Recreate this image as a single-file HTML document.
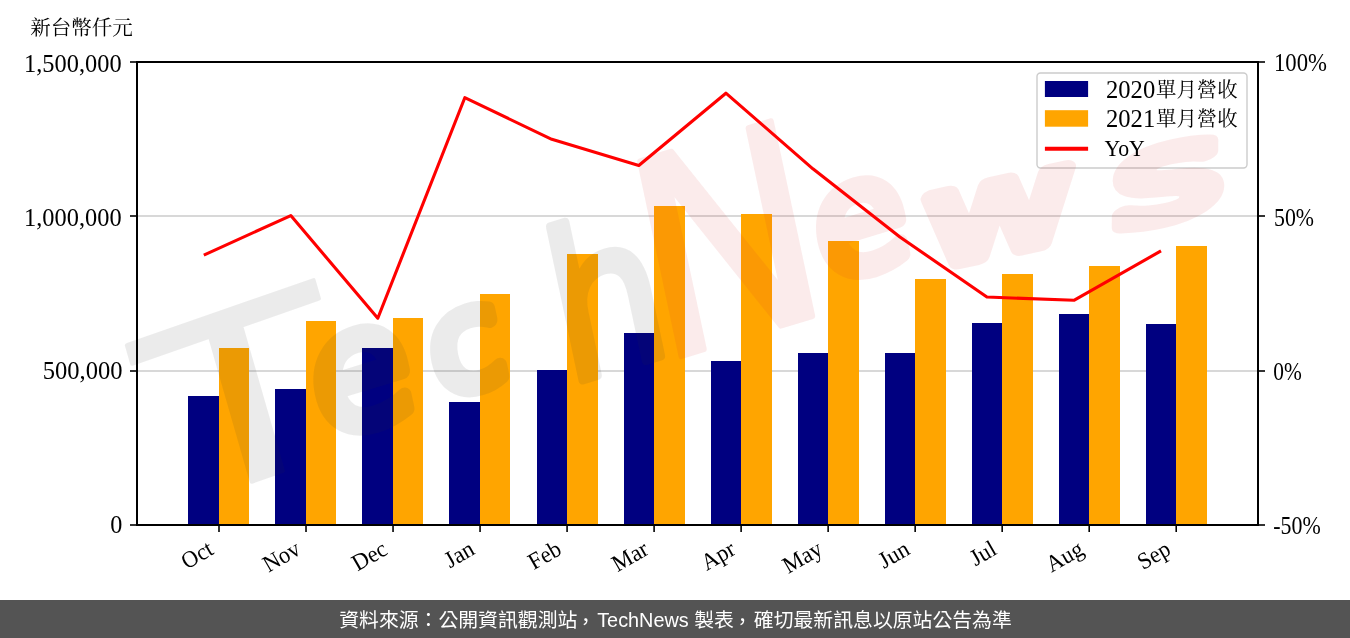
<!DOCTYPE html>
<html lang="zh-Hant"><head><meta charset="utf-8"><title>TechNews chart</title>
<style>html,body{margin:0;padding:0;background:#fff;overflow:hidden}svg{display:block}text{font-family:"Liberation Serif","Noto Serif CJK SC",serif}.ft{font-family:"Liberation Sans","Noto Sans CJK TC",sans-serif;fill:#fff}.wm text{font-family:"DejaVu Sans","Liberation Sans",sans-serif}</style></head><body>
<svg width="1350" height="638" viewBox="0 0 1350 638">
<rect width="1350" height="638" fill="#fff"/>
<line x1="137.0" x2="1258.0" y1="216.0" y2="216.0" stroke="#cbcbcb" stroke-width="1.6"/>
<line x1="137.0" x2="1258.0" y1="371.0" y2="371.0" stroke="#cbcbcb" stroke-width="1.6"/>
<rect x="188" y="396.0" width="31" height="129.0" fill="#000080"/>
<rect x="219" y="348.0" width="30" height="177.0" fill="#ffa500"/>
<rect x="275" y="389.0" width="31" height="136.0" fill="#000080"/>
<rect x="306" y="321.0" width="30" height="204.0" fill="#ffa500"/>
<rect x="362" y="348.0" width="31" height="177.0" fill="#000080"/>
<rect x="393" y="318.0" width="30" height="207.0" fill="#ffa500"/>
<rect x="449" y="402.0" width="31" height="123.0" fill="#000080"/>
<rect x="480" y="294.0" width="30" height="231.0" fill="#ffa500"/>
<rect x="537" y="370.0" width="30" height="155.0" fill="#000080"/>
<rect x="567" y="254.0" width="31" height="271.0" fill="#ffa500"/>
<rect x="624" y="333.0" width="30" height="192.0" fill="#000080"/>
<rect x="654" y="206.0" width="31" height="319.0" fill="#ffa500"/>
<rect x="711" y="361.0" width="30" height="164.0" fill="#000080"/>
<rect x="741" y="214.0" width="31" height="311.0" fill="#ffa500"/>
<rect x="798" y="353.0" width="30" height="172.0" fill="#000080"/>
<rect x="828" y="241.0" width="31" height="284.0" fill="#ffa500"/>
<rect x="885" y="353.0" width="30" height="172.0" fill="#000080"/>
<rect x="915" y="279.0" width="31" height="246.0" fill="#ffa500"/>
<rect x="972" y="323.0" width="30" height="202.0" fill="#000080"/>
<rect x="1002" y="274.0" width="31" height="251.0" fill="#ffa500"/>
<rect x="1059" y="314.0" width="30" height="211.0" fill="#000080"/>
<rect x="1089" y="266.0" width="31" height="259.0" fill="#ffa500"/>
<rect x="1146" y="324.0" width="30" height="201.0" fill="#000080"/>
<rect x="1176" y="246.0" width="31" height="279.0" fill="#ffa500"/>
<rect x="1037" y="73" width="210" height="95" rx="3.5" ry="3.5" fill="#fff" fill-opacity="0.8" stroke="#ccc" stroke-width="1.4"/>
<rect x="1044.9" y="81" width="43.2" height="16" fill="#000080"/>
<rect x="1044.9" y="110.2" width="43.2" height="16.5" fill="#ffa500"/>
<g class="wm" stroke-linejoin="round" stroke-linecap="round">
<g opacity="0.09"><text transform="translate(190,500) rotate(-17) skewX(-5)"><tspan fill="#313131" stroke="#313131"><tspan x="-16.0" y="3.7" font-size="234" stroke-width="4.0" rotate="-3.0" textLength="194" lengthAdjust="spacingAndGlyphs">T</tspan><tspan x="143.0" y="-19.0" font-size="165" stroke-width="15.0">e</tspan><tspan x="266.0" y="-24.0" font-size="136" stroke-width="15.0">c</tspan><tspan x="394.0" y="0.0" font-size="205" stroke-width="9.0" textLength="114" lengthAdjust="spacingAndGlyphs">h</tspan></tspan><tspan fill="#d62c2c" stroke="#d62c2c"><tspan x="488.0" y="6.0" font-size="272" stroke-width="6.0" textLength="186" lengthAdjust="spacingAndGlyphs">N</tspan><tspan x="669.0" y="-22.0" font-size="152" stroke-width="15.0">e</tspan><tspan x="771.0" y="-6.0" font-size="124" stroke-width="15.0" rotate="7.0" textLength="154" lengthAdjust="spacingAndGlyphs">w</tspan><tspan x="963.0" y="12.0" font-size="120" stroke-width="15.0" rotate="7.0" textLength="112" lengthAdjust="spacingAndGlyphs">s</tspan></tspan></text></g>
</g>
<rect x="137.0" y="62.0" width="1121.0" height="463.0" fill="none" stroke="#000" stroke-width="2"/>
<line x1="130" x2="137.0" y1="62.0" y2="62.0" stroke="#000" stroke-width="1.6"/>
<line x1="1258.0" x2="1265" y1="62.0" y2="62.0" stroke="#000" stroke-width="1.6"/>
<line x1="130" x2="137.0" y1="216.0" y2="216.0" stroke="#000" stroke-width="1.6"/>
<line x1="1258.0" x2="1265" y1="216.0" y2="216.0" stroke="#000" stroke-width="1.6"/>
<line x1="130" x2="137.0" y1="371.0" y2="371.0" stroke="#000" stroke-width="1.6"/>
<line x1="1258.0" x2="1265" y1="371.0" y2="371.0" stroke="#000" stroke-width="1.6"/>
<line x1="130" x2="137.0" y1="525.0" y2="525.0" stroke="#000" stroke-width="1.6"/>
<line x1="1258.0" x2="1265" y1="525.0" y2="525.0" stroke="#000" stroke-width="1.6"/>
<line x1="219.00" x2="219.00" y1="525.0" y2="532" stroke="#000" stroke-width="1.6"/>
<line x1="306.02" x2="306.02" y1="525.0" y2="532" stroke="#000" stroke-width="1.6"/>
<line x1="393.04" x2="393.04" y1="525.0" y2="532" stroke="#000" stroke-width="1.6"/>
<line x1="480.06" x2="480.06" y1="525.0" y2="532" stroke="#000" stroke-width="1.6"/>
<line x1="567.08" x2="567.08" y1="525.0" y2="532" stroke="#000" stroke-width="1.6"/>
<line x1="654.10" x2="654.10" y1="525.0" y2="532" stroke="#000" stroke-width="1.6"/>
<line x1="741.12" x2="741.12" y1="525.0" y2="532" stroke="#000" stroke-width="1.6"/>
<line x1="828.14" x2="828.14" y1="525.0" y2="532" stroke="#000" stroke-width="1.6"/>
<line x1="915.16" x2="915.16" y1="525.0" y2="532" stroke="#000" stroke-width="1.6"/>
<line x1="1002.18" x2="1002.18" y1="525.0" y2="532" stroke="#000" stroke-width="1.6"/>
<line x1="1089.20" x2="1089.20" y1="525.0" y2="532" stroke="#000" stroke-width="1.6"/>
<line x1="1176.22" x2="1176.22" y1="525.0" y2="532" stroke="#000" stroke-width="1.6"/>
<polyline points="203.8,255.1 290.8,215.6 377.8,318.2 464.8,97.7 551.8,139.3 638.8,165.5 725.9,93.2 812.9,168.8 899.9,237.0 986.9,297.0 1073.9,300.3 1161.0,250.9" fill="none" stroke="#f00" stroke-width="3.1" stroke-linejoin="round"/>
<line x1="1044.9" x2="1088.1" y1="148.8" y2="148.8" stroke="#f00" stroke-width="4"/>
<g class="tk">
<text x="30.3" y="34.9" font-size="20.5" text-anchor="start">新台幣仟元</text>
<text x="121.6" y="72.2" font-size="24.2" text-anchor="end" textLength="97.5" lengthAdjust="spacingAndGlyphs">1,500,000</text>
<text x="121.6" y="226.3" font-size="24.2" text-anchor="end" textLength="97.5" lengthAdjust="spacingAndGlyphs">1,000,000</text>
<text x="122.5" y="379.3" font-size="24.2" text-anchor="end" textLength="79.8" lengthAdjust="spacingAndGlyphs">500,000</text>
<text x="122.3" y="533.2" font-size="24.2" text-anchor="end">0</text>
<text x="1274.0" y="70.7" font-size="24.2" text-anchor="start" textLength="53.0" lengthAdjust="spacingAndGlyphs">100%</text>
<text x="1274.0" y="225.9" font-size="24.2" text-anchor="start" textLength="40.0" lengthAdjust="spacingAndGlyphs">50%</text>
<text x="1273.3" y="379.8" font-size="24.2" text-anchor="start" textLength="28.5" lengthAdjust="spacingAndGlyphs">0%</text>
<text x="1273.3" y="534.0" font-size="24.2" text-anchor="start" textLength="47.5" lengthAdjust="spacingAndGlyphs">-50%</text>
<text x="1106.0" y="97.6"><tspan font-size="24.2" textLength="49.2" lengthAdjust="spacingAndGlyphs">2020</tspan><tspan font-size="20.4" dx="0.8" dy="-0.7">單月營收</tspan></text>
<text x="1106.0" y="126.8"><tspan font-size="24.2" textLength="49.2" lengthAdjust="spacingAndGlyphs">2021</tspan><tspan font-size="20.4" dx="0.8" dy="-0.7">單月營收</tspan></text>
<text x="1104.6" y="156.3" font-size="23.4" text-anchor="start" textLength="40.2" lengthAdjust="spacingAndGlyphs">YoY</text>
<text transform="translate(215.0,553.4) rotate(-30)" x="0" y="0" font-size="23.5" text-anchor="end" textLength="32.6" lengthAdjust="spacingAndGlyphs">Oct</text>
<text transform="translate(302.0,553.4) rotate(-30)" x="0" y="0" font-size="23.5" text-anchor="end" textLength="38.8" lengthAdjust="spacingAndGlyphs">Nov</text>
<text transform="translate(389.0,553.4) rotate(-30)" x="0" y="0" font-size="23.5" text-anchor="end" textLength="36.3" lengthAdjust="spacingAndGlyphs">Dec</text>
<text transform="translate(476.1,553.4) rotate(-30)" x="0" y="0" font-size="23.5" text-anchor="end" textLength="30.1" lengthAdjust="spacingAndGlyphs">Jan</text>
<text transform="translate(563.1,553.4) rotate(-30)" x="0" y="0" font-size="23.5" text-anchor="end" textLength="33.8" lengthAdjust="spacingAndGlyphs">Feb</text>
<text transform="translate(650.1,553.4) rotate(-30)" x="0" y="0" font-size="23.5" text-anchor="end" textLength="37.6" lengthAdjust="spacingAndGlyphs">Mar</text>
<text transform="translate(737.1,553.4) rotate(-30)" x="0" y="0" font-size="23.5" text-anchor="end" textLength="35.1" lengthAdjust="spacingAndGlyphs">Apr</text>
<text transform="translate(824.1,553.4) rotate(-30)" x="0" y="0" font-size="23.5" text-anchor="end" textLength="41.4" lengthAdjust="spacingAndGlyphs">May</text>
<text transform="translate(911.2,553.4) rotate(-30)" x="0" y="0" font-size="23.5" text-anchor="end" textLength="31.3" lengthAdjust="spacingAndGlyphs">Jun</text>
<text transform="translate(998.2,553.4) rotate(-30)" x="0" y="0" font-size="23.5" text-anchor="end" textLength="26.3" lengthAdjust="spacingAndGlyphs">Jul</text>
<text transform="translate(1085.2,553.4) rotate(-30)" x="0" y="0" font-size="23.5" text-anchor="end" textLength="38.8" lengthAdjust="spacingAndGlyphs">Aug</text>
<text transform="translate(1172.2,553.4) rotate(-30)" x="0" y="0" font-size="23.5" text-anchor="end" textLength="33.8" lengthAdjust="spacingAndGlyphs">Sep</text>
</g>
<rect x="0" y="600" width="1350" height="38" fill="#545454"/>
<text class="ft" x="675.5" y="627.4" font-size="19.85" text-anchor="middle">資料來源：公開資訊觀測站<tspan dy="1.3" dx="-1.5">，</tspan><tspan dy="-1.3" dx="1.5">TechNews 製表</tspan><tspan dy="1.3" dx="-1.5">，</tspan><tspan dy="-1.3" dx="1.5">確切最新訊息以原站公告為準</tspan></text>
</svg></body></html>
